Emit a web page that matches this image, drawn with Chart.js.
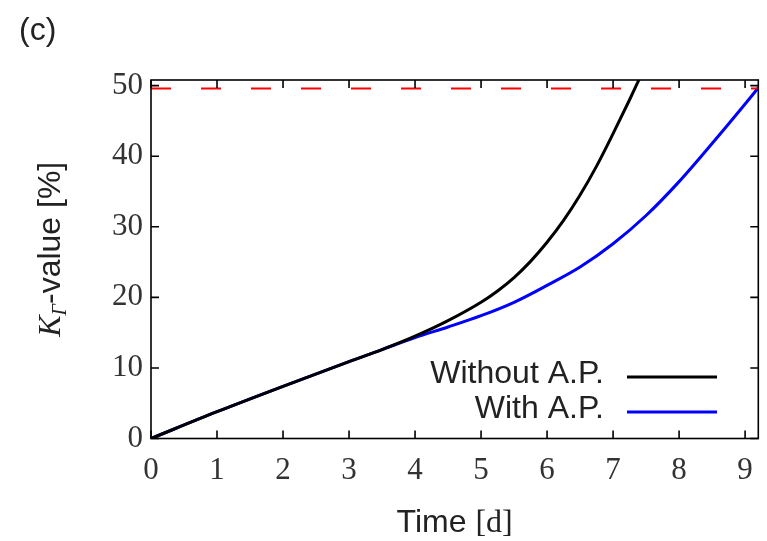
<!DOCTYPE html>
<html>
<head>
<meta charset="utf-8">
<script src="https://cdn.jsdelivr.net/npm/chart.js@4"></script>
<style>
  html, body { margin: 0; padding: 0; background: #fff; }
  #wrap { width: 767px; height: 541px; }
</style>
</head>
<body>
<div id="wrap"><canvas id="myChart"></canvas></div>
<script>
// values
const daysWithout = [0, 1, 2, 3, 3.5, 4, 4.5, 5, 5.25, 5.5, 5.75, 6, 6.25, 6.5, 6.75, 7, 7.25, 7.4];
const kWithout = [0, 3.8, 7.4, 10.9, 12.6, 14.5, 16.7, 19.3, 20.9, 22.8, 25.1, 27.8, 30.9, 34.5, 38.6, 43.2, 48.0, 51.0];
const daysWith = [0, 1, 2, 3, 3.5, 4, 4.5, 5, 5.5, 6, 6.5, 7, 7.5, 8, 8.5, 9, 9.2];
const kWith = [0, 3.8, 7.4, 10.9, 12.6, 14.3, 15.8, 17.4, 19.3, 21.7, 24.3, 27.6, 31.6, 36.4, 41.8, 47.4, 49.7];
const limitDays = [0, 9.2];
const limitK = [49.6, 49.6];
const xTicks = [0, 1, 2, 3, 4, 5, 6, 7, 8, 9];
const yTicks = [0, 10, 20, 30, 40, 50];

const seriesNames = ["Without A.P.", "With A.P."];
const seriesColors = ["#000000", "#0000ff"];

function pts(xs, ys) {
  return xs.map((x, i) => ({ x: x, y: ys[i] }));
}

var ctx = document.getElementById("myChart");

// frame, inward ticks, legend and axis titles (gnuplot look)
const decor = {
  id: "decor",
  afterDraw(chart) {
    const c = chart.ctx;
    const a = chart.chartArea;
    const xs = chart.scales.x;
    const ys = chart.scales.y;
    c.save();
    c.strokeStyle = "#000";
    c.lineWidth = 1.6;
    c.strokeRect(a.left, a.top, a.right - a.left, a.bottom - a.top);
    c.beginPath();
    xTicks.forEach((v) => {
      const px = xs.getPixelForValue(v);
      c.moveTo(px, a.bottom); c.lineTo(px, a.bottom - 8);
      c.moveTo(px, a.top); c.lineTo(px, a.top + 8);
    });
    yTicks.forEach((v) => {
      const py = ys.getPixelForValue(v);
      c.moveTo(a.left, py); c.lineTo(a.left + 8, py);
      c.moveTo(a.right, py); c.lineTo(a.right - 8, py);
    });
    c.stroke();

    // legend
    const legY = [377, 412];
    c.font = "32px 'Liberation Sans'";
    c.fillStyle = "#222";
    c.textAlign = "right";
    c.textBaseline = "middle";
    seriesNames.forEach((name, i) => {
      c.fillText(name, 604, legY[i] - 3);
      c.beginPath();
      c.strokeStyle = seriesColors[i];
      c.lineWidth = 3;
      c.moveTo(627, legY[i]);
      c.lineTo(717, legY[i]);
      c.stroke();
    });

    // x title: Time [d]
    c.textBaseline = "alphabetic";
    c.textAlign = "left";
    const xParts = [["Time ", "32px 'Liberation Sans'"], ["[d]", "32px 'Liberation Serif'"]];
    drawParts(c, xParts, (a.left + a.right) / 2, 532);

    // y title: K_Γ-value [%]
    c.save();
    c.translate(60, (a.top + a.bottom) / 2 - 10);
    c.rotate(-Math.PI / 2);
    const yParts = [
      ["K", "italic 32px 'Liberation Serif'", 0],
      ["Γ", "italic 20px 'Liberation Serif'", 6],
      ["-value [%]", "32px 'Liberation Sans'", 0]
    ];
    drawParts(c, yParts, 0, 0);
    c.restore();

    // panel label
    c.font = "32px 'Liberation Sans'";
    c.fillText("(c)", 19, 40);
    c.restore();
  }
};

function drawParts(c, parts, cx, baseY) {
  let total = 0;
  parts.forEach((p) => { c.font = p[1]; total += c.measureText(p[0]).width; });
  let x = cx - total / 2;
  parts.forEach((p) => {
    c.font = p[1];
    c.fillText(p[0], x, baseY + (p[2] || 0));
    x += c.measureText(p[0]).width;
  });
}

new Chart(ctx, {
  type: "scatter",
  data: {
    datasets: [
      {
        label: "limit",
        data: pts(limitDays, limitK),
        showLine: true,
        borderColor: "#ff0000",
        borderWidth: 2,
        borderDash: [20, 30],
        pointRadius: 0,
      },
      {
        label: seriesNames[0],
        data: pts(daysWithout, kWithout),
        showLine: true,
        borderColor: seriesColors[0],
        borderWidth: 3,
        pointRadius: 0,
        cubicInterpolationMode: "monotone",
      },
      {
        label: seriesNames[1],
        data: pts(daysWith, kWith),
        showLine: true,
        borderColor: seriesColors[1],
        borderWidth: 3,
        pointRadius: 0,
        cubicInterpolationMode: "monotone",
      },
    ],
  },
  options: {
    responsive: true,
    maintainAspectRatio: false,
    animation: false,
    layout: { padding: { top: 80, right: 7, left: 0, bottom: 0 } },
    plugins: { legend: { display: false }, tooltip: { enabled: false } },
    scales: {
      x: {
        type: "linear",
        min: 0,
        max: 9.2,
        afterFit: (s) => { s.height = 102.5; },
        afterBuildTicks: (s) => { s.ticks = xTicks.map((v) => ({ value: v })); },
        grid: { display: false, drawTicks: false },
        border: { display: false },
        ticks: {
          padding: 14,
          color: "#333",
          font: { family: "Liberation Serif", size: 31 },
        },
      },
      y: {
        type: "linear",
        min: 0,
        max: 50.8,
        afterFit: (s) => { s.width = 151; },
        afterBuildTicks: (s) => { s.ticks = yTicks.map((v) => ({ value: v })); },
        grid: { display: false, drawTicks: false },
        border: { display: false },
        ticks: {
          padding: 8,
          color: "#333",
          font: { family: "Liberation Serif", size: 31 },
        },
      },
    },
  },
  plugins: [decor],
});
</script>
</body>
</html>
